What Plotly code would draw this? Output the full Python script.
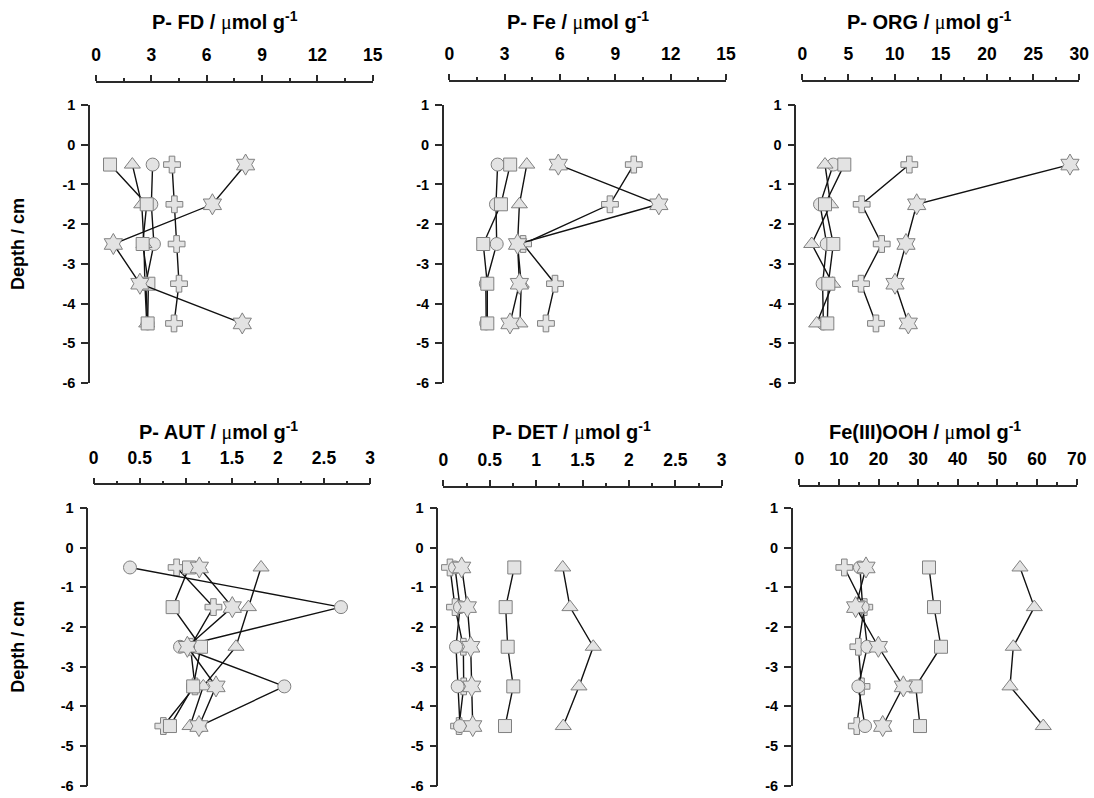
import plotly.graph_objects as go

# ---------------- data ----------------
depth = [-0.5, -1.5, -2.5, -3.5, -4.5]
depth_ticks = [1, 0, -1, -2, -3, -4, -5, -6]
depth_ticktext = ["1", "0", "-1", "-2", "-3", "-4", "-5", "-6"]

# P-FD
fd_cross = [4.12, 4.25, 4.37, 4.50, 4.23]
fd_circle = [3.07, 3.00, 3.14, 2.70, 2.80]
fd_triangle = [1.97, 2.48, 2.60, 2.65, 2.75]
fd_square = [0.76, 2.75, 2.53, 2.84, 2.80]
fd_star = [8.11, 6.31, 0.94, 2.38, 7.93]
fd_ticks = [0, 3, 6, 9, 12, 15]

# P-Fe
fe_cross = [10.0, 8.71, 4.00, 5.73, 5.24]
fe_circle = [2.62, 2.53, 2.57, 1.98, 2.00]
fe_triangle = [4.20, 3.80, 3.70, 3.90, 3.83]
fe_square = [3.30, 2.80, 1.84, 2.06, 2.06]
fe_star = [5.91, 11.36, 3.70, 3.80, 3.29]
fe_ticks = [0, 3, 6, 9, 12, 15]

# P-ORG
org_cross = [11.59, 6.43, 8.60, 6.36, 7.98]
org_circle = [3.36, 1.92, 2.64, 2.20, 2.28]
org_triangle = [2.46, 3.07, 1.02, 3.29, 1.56]
org_square = [4.55, 2.46, 3.36, 2.82, 2.71]
org_star = [28.99, 12.39, 11.23, 10.04, 11.48]
org_ticks = [0, 5, 10, 15, 20, 25, 30]

# P-AUT
aut_cross = [0.90, 1.30, 1.05, 1.10, 0.756]
aut_circle = [0.394, 2.685, 0.937, 2.07, 1.15]
aut_triangle = [1.817, 1.68, 1.545, 1.19, 1.046]
aut_square = [1.035, 0.857, 1.165, 1.08, 0.828]
aut_star = [1.147, 1.505, 1.017, 1.328, 1.143]
aut_ticks = [0, 0.5, 1, 1.5, 2, 2.5, 3]

# P-DET
det_cross = [0.072, 0.126, 0.216, 0.22, 0.17]
det_circle = [0.126, 0.18, 0.137, 0.155, 0.18]
det_triangle = [1.287, 1.365, 1.616, 1.462, 1.293]
det_square = [0.765, 0.672, 0.694, 0.754, 0.665]
det_star = [0.198, 0.259, 0.295, 0.306, 0.317]
det_ticks = [0, 0.5, 1, 1.5, 2, 2.5, 3]

# Fe(III)OOH
feooh_cross = [11.36, 16.4, 14.9, 15.7, 14.5]
feooh_circle = [15.3, 15.99, 17.17, 14.9, 16.58]
feooh_triangle = [55.69, 59.3, 54.0, 53.17, 61.57]
feooh_square = [32.73, 33.99, 35.76, 29.37, 30.46]
feooh_star = [16.83, 14.22, 19.95, 26.25, 21.04]
feooh_ticks = [0, 10, 20, 30, 40, 50, 60, 70]

mu = "<span style='font-family:Liberation Serif;font-weight:normal'>μ</span>"
titles = [
    "P- FD / " + mu + "mol g<sup>-1</sup>",
    "P- Fe / " + mu + "mol g<sup>-1</sup>",
    "P- ORG / " + mu + "mol g<sup>-1</sup>",
    "P- AUT / " + mu + "mol g<sup>-1</sup>",
    "P- DET / " + mu + "mol g<sup>-1</sup>",
    "Fe(III)OOH / " + mu + "mol g<sup>-1</sup>",
]

panel_data = [
    (fd_cross, fd_circle, fd_triangle, fd_square, fd_star),
    (fe_cross, fe_circle, fe_triangle, fe_square, fe_star),
    (org_cross, org_circle, org_triangle, org_square, org_star),
    (aut_cross, aut_circle, aut_triangle, aut_square, aut_star),
    (det_cross, det_circle, det_triangle, det_square, det_star),
    (feooh_cross, feooh_circle, feooh_triangle, feooh_square, feooh_star),
]
panel_ticks = [fd_ticks, fe_ticks, org_ticks, aut_ticks, det_ticks, feooh_ticks]

# ---------------- layout geometry (pixels) ----------------
W, H = 1094, 798
xdom_px = [(96, 372.7), (449.3, 726), (802.3, 1079.3),
           (93.7, 370), (443.3, 721.7), (799.3, 1076.7)]
yaxis_px = [89, 442.7, 795.3, 87.3, 437.3, 791.7]
xaxis_line_px = [81.7, 80.5, 81, 484.3, 486.5, 486]
ydom_px = [(105, 383)] * 3 + [(508, 785.5)] * 3
title_px = [(225, 21.5), (577.5, 21.5), (929.5, 21.5),
            (218, 430.5), (571.7, 430.5), (925, 430.5)]

symbols = ["cross", "circle", "triangle-up", "square", "hexagram"]
sizes = [14, 13, 14, 13, 16]
names = ["cross", "circle", "triangle", "square", "star"]

FONT = "Liberation Sans"
AX = "#2a2a2a"

fig = go.Figure()
for i in range(6):
    xa = "x" if i == 0 else f"x{i+1}"
    ya = "y" if i == 0 else f"y{i+1}"
    for s in range(5):
        fig.add_trace(go.Scatter(
            x=panel_data[i][s], y=depth, xaxis=xa, yaxis=ya,
            mode="lines+markers", name=names[s], showlegend=False,
            cliponaxis=False,
            line=dict(color="#111111", width=1.4),
            marker=dict(symbol=symbols[s], size=sizes[s], color="#e3e3e3",
                        line=dict(color="#808080", width=1)),
        ))

layout = dict(
    width=W, height=H,
    margin=dict(l=0, r=0, t=0, b=0),
    paper_bgcolor="white", plot_bgcolor="white",
    showlegend=False,
)
annotations = []
for i in range(6):
    sfx = "" if i == 0 else str(i + 1)
    ticks = panel_ticks[i]
    rng = [ticks[0], ticks[-1]]
    step = ticks[1] - ticks[0]
    layout["xaxis" + sfx] = dict(
        domain=[xdom_px[i][0] / W, xdom_px[i][1] / W],
        range=rng, side="top", anchor="free",
        position=1 - xaxis_line_px[i] / H,
        showline=True, linecolor=AX, linewidth=1.5,
        ticks="outside", ticklen=6, tickwidth=1.5, tickcolor=AX,
        tickvals=ticks, ticktext=[f"{t:g}" for t in ticks],
        minor=dict(dtick=step / 2, tick0=0, ticks="outside", ticklen=3,
                   tickwidth=1.5, tickcolor=AX),
        tickfont=dict(family=FONT, size=17.5, color="black", weight="bold"),
        ticklabelstandoff=7,
        showgrid=False, zeroline=False, automargin=False, fixedrange=True,
    )
    layout["yaxis" + sfx] = dict(
        domain=[1 - ydom_px[i][1] / H, 1 - ydom_px[i][0] / H],
        range=[-6, 1], anchor="free", position=yaxis_px[i] / W,
        showline=True, linecolor=AX, linewidth=1.5,
        ticks="outside", ticklen=7, tickwidth=1.5, tickcolor=AX,
        tickvals=depth_ticks, ticktext=depth_ticktext,
        tickfont=dict(family=FONT, size=14.5, color="black", weight="bold"),
        ticklabelstandoff=3,
        showgrid=False, zeroline=False, automargin=False, fixedrange=True,
    )
    annotations.append(dict(
        text=titles[i], xref="paper", yref="paper",
        x=title_px[i][0] / W, y=1 - title_px[i][1] / H,
        xanchor="center", yanchor="middle", showarrow=False,
        font=dict(family=FONT, size=20, color="black", weight="bold"),
    ))

for yc in [(105 + 383) / 2, (508 + 785.5) / 2]:
    annotations.append(dict(
        text="Depth / cm", xref="paper", yref="paper",
        x=18 / W, y=1 - yc / H, xanchor="center", yanchor="middle",
        textangle=-90, showarrow=False,
        font=dict(family=FONT, size=18, color="black", weight="bold"),
    ))
layout["annotations"] = annotations

fig.update_layout(**layout)
fig.write_html("out.html")
